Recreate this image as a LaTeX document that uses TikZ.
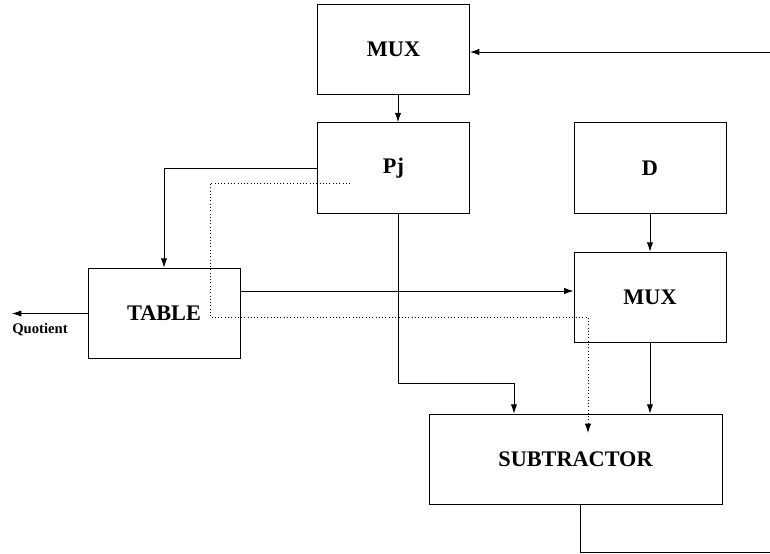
\documentclass[tikz,border=0pt]{standalone}
\usepackage{fontspec}
\setmainfont{Liberation Serif}
\usetikzlibrary{positioning,arrows.meta,calc}

\begin{document}
\begin{tikzpicture}[x=0.03cm, y=-0.03cm, line width=0.8pt,
  block/.style={draw, minimum width=4.56cm, minimum height=2.72cm, inner sep=0pt, font=\fontsize{19}{22}\selectfont\bfseries},
  arr/.style={-{Latex[length=2.8mm,width=1.9mm]}}]
\useasboundingbox (0,0) rectangle (770,554);
\node[block] (mux1) at (393.5,49.5) {MUX};
\node[block] (pj) at (393.5,168) {Pj};
\node[block] (d) at (650,168) {D};
\node[block] (table) at (164,313.5) {TABLE};
\node[block] (mux2) at (650,297.5) {MUX};
\node[block, minimum width=8.79cm] (sub) at (575.5,459.5) {SUBTRACTOR};
\node[font=\fontsize{12.5}{14}\selectfont\bfseries, inner sep=0pt] (quot) at (40,330) {Quotient};
\coordinate (in) at (770,52);
\coordinate (q) at (12,313.5);
\coordinate (bend) at (514,383);
\coordinate (out) at (770,552);
\coordinate (ps) at (350,183);
\coordinate (pe) at (588,433);
\draw[arr] (in) -- (in -| mux1.east);
\draw[arr] ([xshift=0.135cm]mux1.south) -- ([xshift=0.135cm]pj.north);
\draw[arr] (pj.west) -| (table.north);
\draw[arr, dotted] (ps) -| (210,317) -| (pe);
\draw[arr] ([yshift=0.675cm]table.east) -- ([yshift=0.675cm]table.east -| mux2.west);
\draw[arr] (table.west) -- (q);
\draw[arr] ([xshift=0.135cm]pj.south) |- (bend) -- (bend |- sub.north);
\draw[arr] (d) -- (mux2);
\draw[arr] (mux2.south) -- (mux2.south |- sub.north);
\draw ([xshift=0.135cm]sub.south) |- (out);
\end{tikzpicture}
\end{document}
